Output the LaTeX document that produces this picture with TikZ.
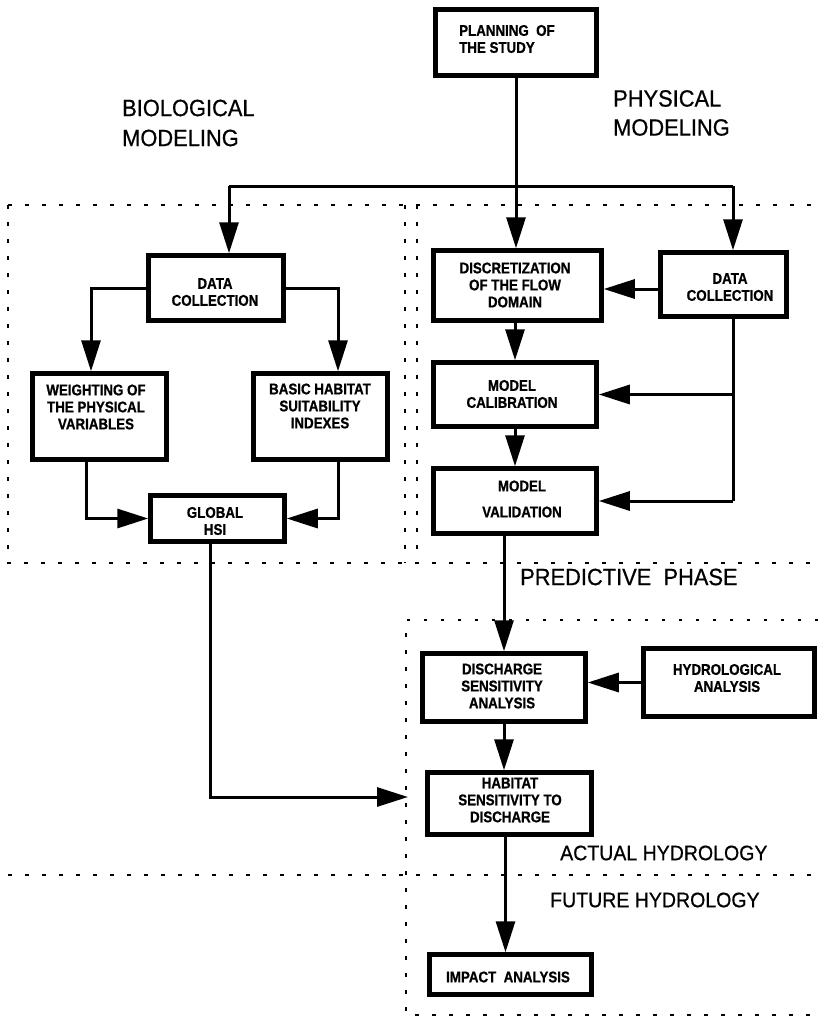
\documentclass[tikz,border=0pt]{standalone}
\usepackage{fontspec}
\setmainfont{Liberation Sans}
\newfontfamily\boxfont[FakeStretch=0.86,FakeBold=0.8]{Liberation Sans Bold}
\newfontfamily\headfont[FakeStretch=0.93,FakeBold=0.6]{Liberation Sans}
\usetikzlibrary{arrows.meta}
\begin{document}
\begin{tikzpicture}[x=1pt,y=-1pt,
  box/.style={draw, line width=4.5pt, inner sep=0pt},
  btext/.style={font=\boxfont\fontsize{15.5}{17}\selectfont, align=center, inner sep=0pt},
  head/.style={font=\headfont\fontsize{23.5}{29}\selectfont, align=left, anchor=west, inner sep=0pt},
  subhead/.style={font=\headfont\fontsize{21}{25}\selectfont, anchor=west, inner sep=0pt},
  conn/.style={line width=3pt},
  arr/.style={conn, -{Triangle[length=31pt,width=19pt]}},
  region/.style={line width=2.4pt, dash pattern=on 3.5pt off 13.5pt}
]
\fill[white] (0,0) rectangle (818,1017);
\useasboundingbox (0,0) rectangle (818,1017);

% dotted regions
\draw[region] (8,205) -- (818,205);
\draw[region] (8,205) -- (8,563) -- (818,563);
\draw[region] (405,205) -- (405,563);
\draw[region] (417,205) -- (417,563);
\draw[region] (818,620) -- (406,620) -- (406,1015) -- (818,1015);
\draw[region] (8,875) -- (818,875);

% boxes
\node[box, minimum width=161pt, minimum height=66pt] (plan) at (516,42.5) {};
\node[box, minimum width=135pt, minimum height=65pt] (dcl) at (216,288) {};
\node[box, minimum width=134pt, minimum height=86pt] (wgt) at (99.5,416.5) {};
\node[box, minimum width=134pt, minimum height=86pt] (bas) at (320.5,416.5) {};
\node[box, minimum width=134pt, minimum height=46pt] (glo) at (217.5,518.5) {};
\node[box, minimum width=168pt, minimum height=70pt] (dis) at (517.5,285.5) {};
\node[box, minimum width=126pt, minimum height=64pt] (dcr) at (723.5,284.5) {};
\node[box, minimum width=163pt, minimum height=64pt] (cal) at (515,394.5) {};
\node[box, minimum width=163pt, minimum height=65pt] (val) at (515,501) {};
\node[box, minimum width=163pt, minimum height=68pt] (dsa) at (504,687.5) {};
\node[box, minimum width=171pt, minimum height=68pt] (hyd) at (729,682.5) {};
\node[box, minimum width=164pt, minimum height=62pt] (hab) at (509.5,803.5) {};
\node[box, minimum width=162pt, minimum height=40pt] (imp) at (510.5,974.5) {};

% box texts
\node[btext, align=left, anchor=west] (tplan) at (459,39) {PLANNING\ \ OF\\THE STUDY};
\node[btext] (tdcl) at (215,292) {DATA\\COLLECTION};
\node[btext] (twgt) at (96,407) {WEIGHTING OF\\THE PHYSICAL\\VARIABLES};
\node[btext] (tbas) at (320,406) {BASIC HABITAT\\SUITABILITY\\INDEXES};
\node[btext] (tglo) at (215,521) {GLOBAL\\HSI};
\node[btext] (tdis) at (515,285) {DISCRETIZATION\\OF THE FLOW\\DOMAIN};
\node[btext] (tdcr) at (730,287) {DATA\\COLLECTION};
\node[btext] (tcal) at (512,394) {MODEL\\CALIBRATION};
\node[btext] (tval) at (522,499) {MODEL\\[9pt]VALIDATION};
\node[btext] (tdsa) at (502,686) {DISCHARGE\\SENSITIVITY\\ANALYSIS};
\node[btext] (thyd) at (727,678) {HYDROLOGICAL\\ANALYSIS};
\node[btext] (thab) at (510,800) {HABITAT\\SENSITIVITY TO\\DISCHARGE};
\node[btext] (timp) at (508,977) {IMPACT\ \ ANALYSIS};

% headings
\node[head] (lbio) at (122,123) {BIOLOGICAL\\[1pt]MODELING};
\node[head] (lphy) at (613,113) {PHYSICAL\\MODELING};
\node[head] (lpred) at (520,577) {PREDICTIVE\ \ PHASE};
\node[subhead] (lact) at (560,853) {ACTUAL HYDROLOGY};
\node[subhead] (lfut) at (550,900) {FUTURE HYDROLOGY};

% connectors
\coordinate (jl) at (229,186);
\coordinate (jr) at (733,186);
\draw[conn] (plan.south) -- (plan.south |- jl);
\draw[conn] (jl) -- (jr);
\draw[arr] (jl) -- (jl |- dcl.north);
\draw[arr] (plan.south |- jl) -- (plan.south |- dis.north);
\draw[arr] (jr) -- (jr |- dcr.north);

\draw[arr] (dcl.west) -| ([xshift=-8.5pt]wgt.north);
\draw[arr] (dcl.east) -| ([xshift=17.5pt]bas.north);
\draw[arr] ([xshift=-13.5pt]wgt.south) |- (glo.west);
\draw[arr] ([xshift=17.5pt]bas.south) |- (glo.east);
\coordinate (hin) at (408,797);
\draw[arr] ([xshift=-7.5pt]glo.south) |- (hin);

\path ([yshift=-4.5pt]dcr.west) coordinate (dcrw);
\draw[arr] (dcrw) -- (dcrw -| dis.east);
\path ([xshift=9.5pt]dcr.south) coordinate (dcrs);
\draw[conn] (dcrs) -- (dcrs |- val.east);
\draw[arr] (dcrs |- cal.east) -- (cal.east);
\draw[arr] (dcrs |- val.east) -- (val.east);
\draw[arr] (cal.north |- dis.south) -- (cal.north);
\draw[arr] (cal.south) -- (val.north);
\draw[arr] (dsa.north |- val.south) -- (dsa.north);
\draw[arr] (hyd.west) -- (hyd.west -| dsa.east);
\draw[arr] (dsa.south) -- (dsa.south |- hab.north);
\draw[arr] ([xshift=-4pt]hab.south) -- ([xshift=-4pt]hab.south |- imp.north);
\end{tikzpicture}
\end{document}
